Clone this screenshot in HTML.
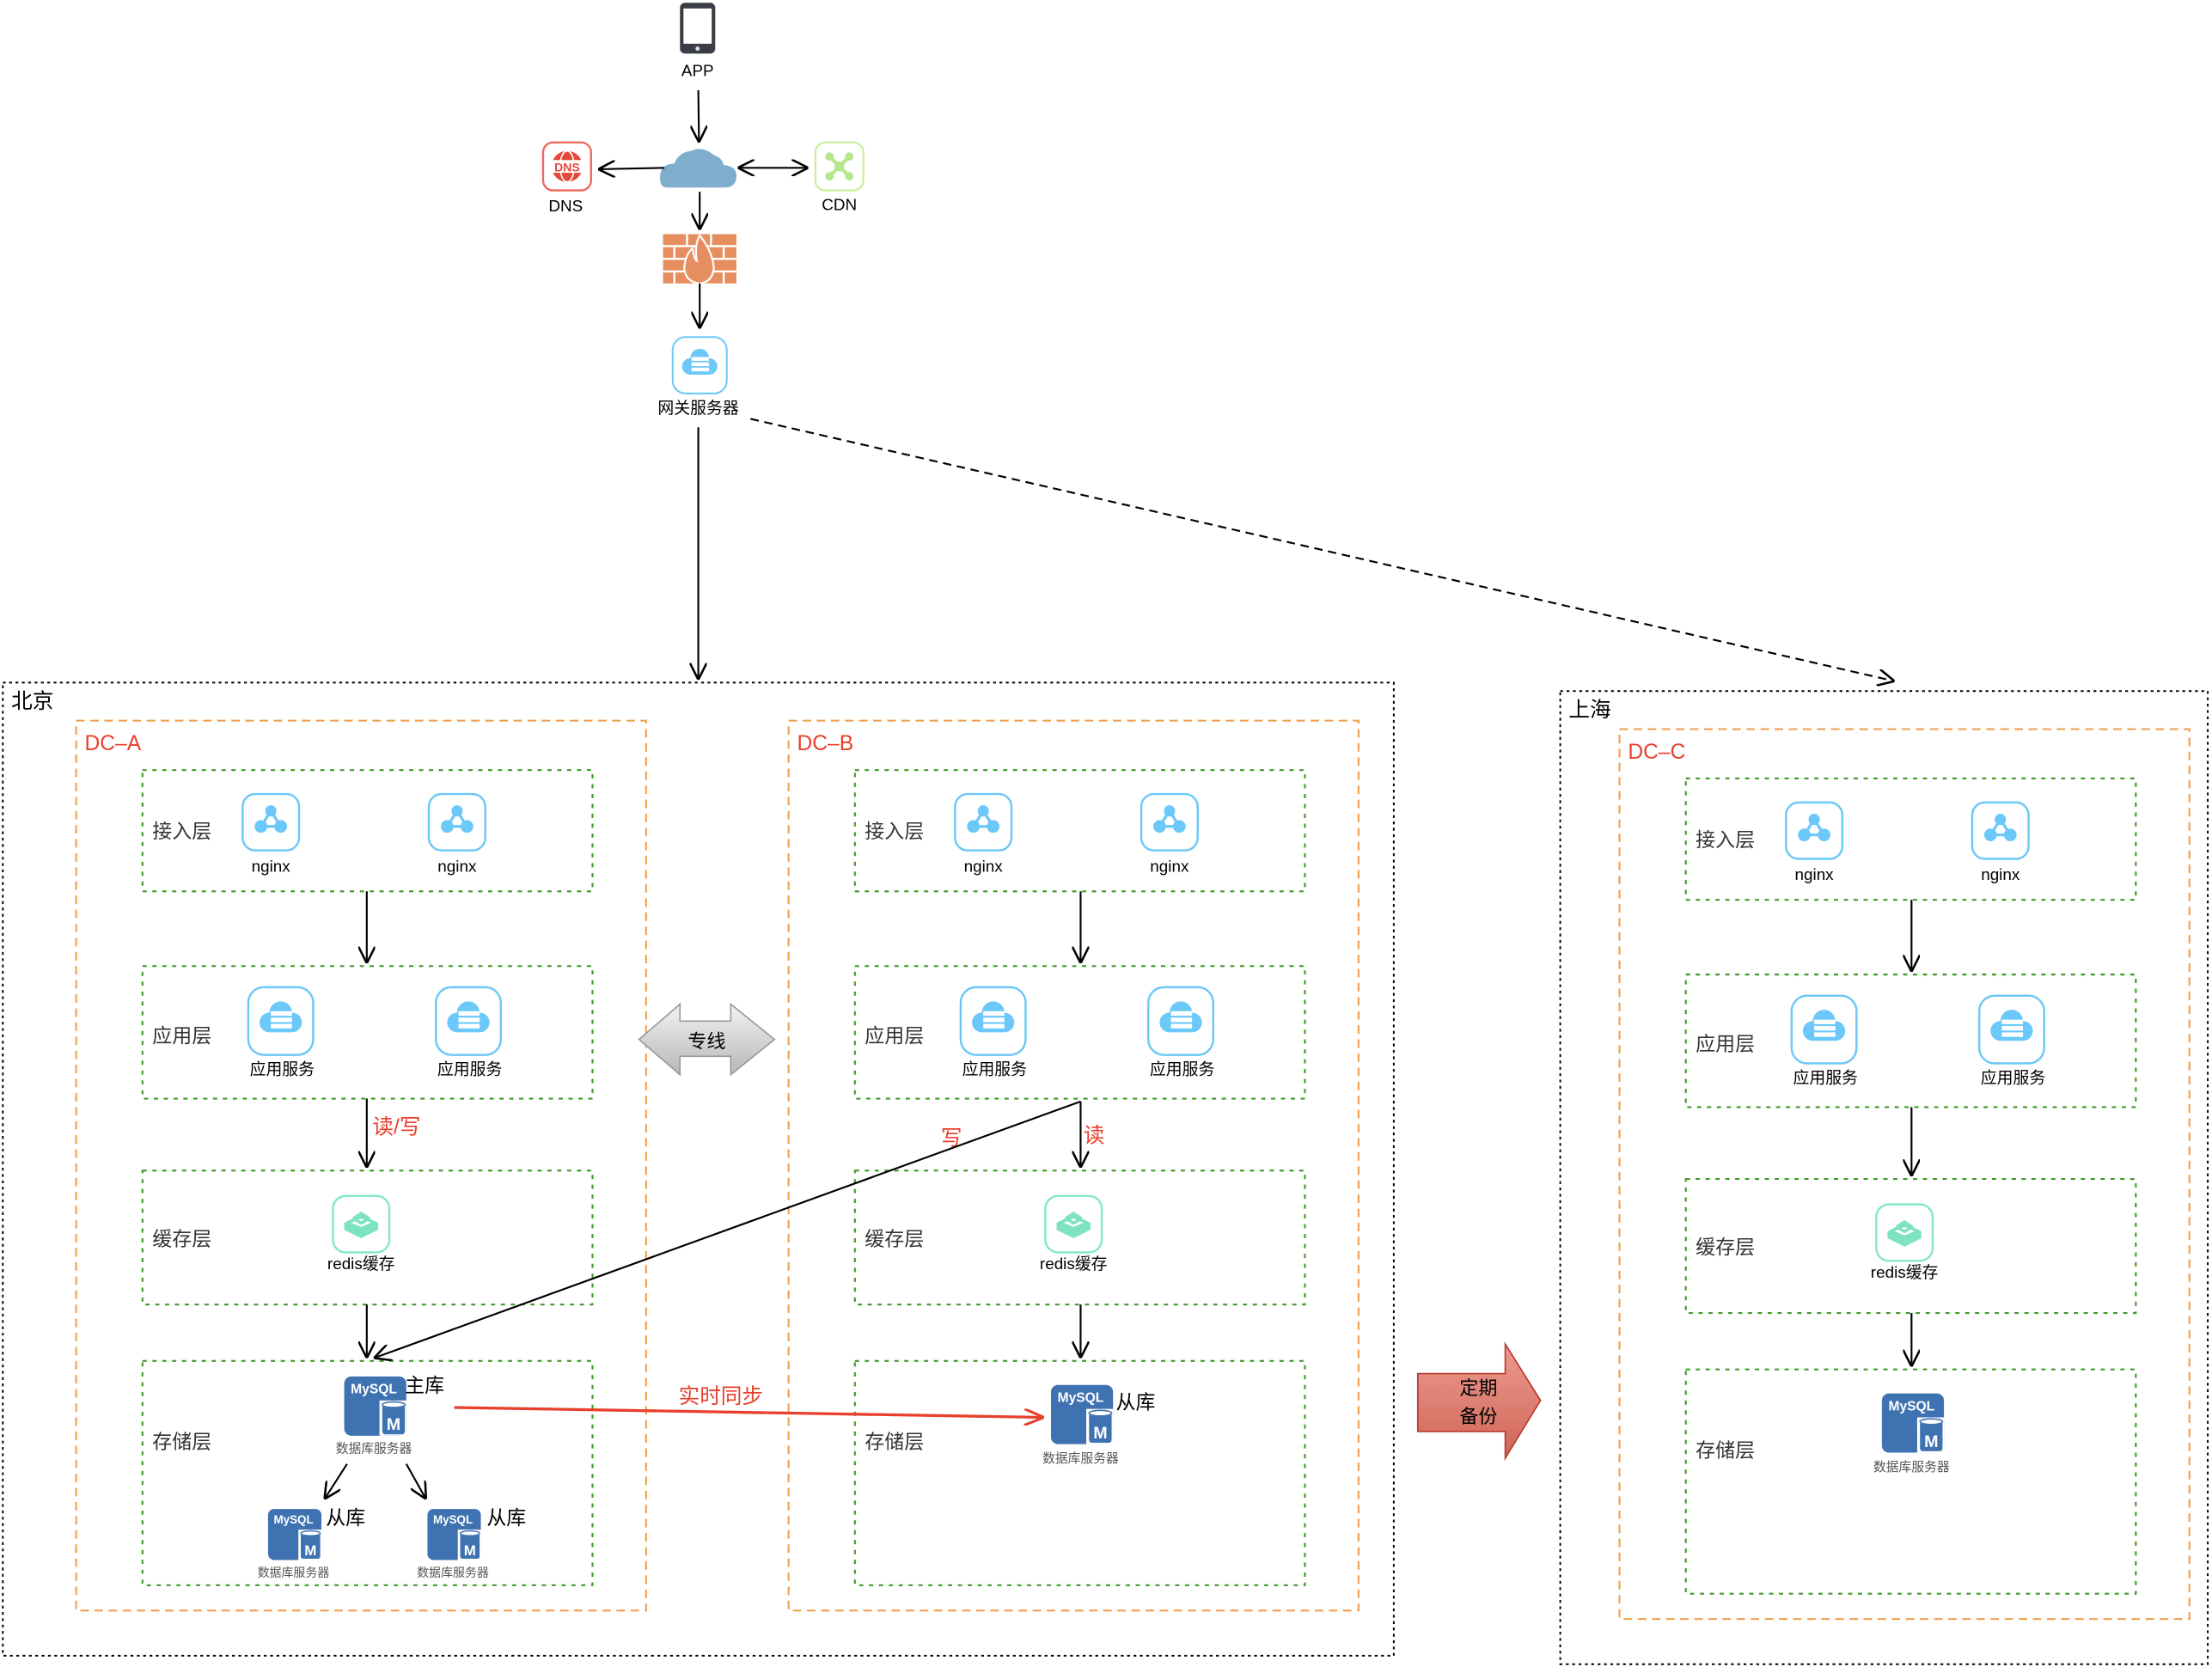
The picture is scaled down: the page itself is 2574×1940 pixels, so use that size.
<!DOCTYPE html>
<html><head><meta charset="utf-8"><style>
html,body{margin:0;padding:0;background:#fff;}
svg{display:block;}
text{font-family:"Liberation Sans","Noto Sans CJK SC",sans-serif;}
</style></head><body>
<svg width="2574" height="1940" viewBox="0 0 1568 1182" preserveAspectRatio="none" xmlns="http://www.w3.org/2000/svg">
<defs>
<marker id="ar" markerUnits="userSpaceOnUse" markerWidth="12" markerHeight="12" refX="10" refY="5" orient="auto" viewBox="0 0 10 10"><path d="M0,0 L10,5 L0,10" fill="none" stroke="#000" stroke-width="1.3"/></marker>
<marker id="ars" markerUnits="userSpaceOnUse" markerWidth="12" markerHeight="12" refX="0" refY="5" orient="auto" viewBox="0 0 10 10"><path d="M10,0 L0,5 L10,10" fill="none" stroke="#000" stroke-width="1.3"/></marker>
<marker id="arr" markerUnits="userSpaceOnUse" markerWidth="14" markerHeight="12" refX="12" refY="5" orient="auto" viewBox="0 0 12 10"><path d="M0,0 L12,5 L0,10" fill="none" stroke="#e8402c" stroke-width="1.6"/></marker>
<linearGradient id="gg" x1="0" y1="0" x2="0" y2="1"><stop offset="0" stop-color="#f2f2f2"/><stop offset="1" stop-color="#b8b8b8"/></linearGradient>
<linearGradient id="rg" x1="0" y1="0" x2="0" y2="1"><stop offset="0" stop-color="#ee9a90"/><stop offset="1" stop-color="#cf6658"/></linearGradient>
<symbol id="ngx" viewBox="0 0 42 42"><rect x="1" y="1" width="40" height="40" rx="9" fill="#fff" stroke="#6cc8f8" stroke-width="1.5"/><path d="M21,13 L14,24 L28,24 Z" fill="none" stroke="#6cc8f8" stroke-width="2"/><circle cx="21" cy="13" r="4" fill="#6cc8f8"/><circle cx="14" cy="24" r="4.5" fill="#6cc8f8"/><circle cx="28" cy="24" r="4.5" fill="#6cc8f8"/></symbol>
<symbol id="app" viewBox="0 0 48 50"><rect x="1" y="1" width="46" height="48" rx="11" fill="#fff" stroke="#6cc8f8" stroke-width="1.5"/><circle cx="24" cy="19" r="8" fill="#6cc8f8"/><rect x="9" y="19" width="30" height="14" rx="7" fill="#6cc8f8"/><rect x="17" y="18" width="15" height="3.2" fill="#fff"/><rect x="17" y="22.5" width="15" height="3.2" fill="#fff"/><rect x="17" y="27" width="15" height="3.2" fill="#fff"/></symbol>
<symbol id="rds" viewBox="0 0 42 42"><rect x="1" y="1" width="40" height="40" rx="9" fill="#fff" stroke="#86e8c4" stroke-width="1.5"/><path d="M9,20 L21,14 L33,20 L33,25 L21,31 L9,25 Z" fill="#7ee3c0"/><path d="M15,16 L21,12 L27,16 L21,19 Z" fill="#7ee3c0"/><path d="M14,20 L21,17 L28,20 L21,23 Z" fill="#fff"/><path d="M15,16 L21,19 L27,16 L27,18 L21,21.5 L15,18 Z" fill="#7ee3c0"/></symbol>
</defs>

<!-- top section -->
<rect x="482" y="2" width="25" height="36" rx="3.5" fill="#3a3d45"/><rect x="484.5" y="6" width="20" height="25" fill="#fff"/><circle cx="494.5" cy="34.5" r="1.5" fill="#ddd"/>
<text x="494.5" y="54" font-size="11.5" text-anchor="middle">APP</text>
<line x1="495" y1="64" x2="495.5" y2="101" stroke="#000" stroke-width="1.3" marker-end="url(#ar)"/>
<path d="M473,133 Q467,133 468,124 Q469,116 478,116 Q481,108 490,107 Q498,103 506,110 Q512,112 513,117 Q523,118 522,126 Q521,133 514,133 Z" fill="#7faecd"/>
<line x1="471" y1="119" x2="424" y2="120" stroke="#000" stroke-width="1.3" marker-end="url(#ar)"/>
<line x1="523" y1="119" x2="573" y2="119" stroke="#000" stroke-width="1.3" marker-start="url(#ars)" marker-end="url(#ar)"/>
<rect x="385" y="101" width="34" height="34" rx="7" fill="#fff" stroke="#f0645a" stroke-width="1.4"/>
<circle cx="402" cy="118" r="11" fill="#e5483c"/><ellipse cx="402" cy="118" rx="5" ry="11" fill="none" stroke="#fff" stroke-width="1"/>
<rect x="390" y="113.5" width="24" height="9" fill="#fff"/><text x="402" y="121.5" font-size="8.5" font-weight="bold" fill="#e5483c" text-anchor="middle">DNS</text>
<text x="401" y="150" font-size="11.5" text-anchor="middle">DNS</text>
<rect x="578" y="101" width="34" height="34" rx="7" fill="#fff" stroke="#c8f0a0" stroke-width="1.4"/>
<g stroke="#b5e88a" stroke-width="2.5"><line x1="588" y1="111" x2="602" y2="125"/><line x1="602" y1="111" x2="588" y2="125"/></g>
<g fill="#b5e88a"><circle cx="588" cy="111" r="3"/><circle cx="602" cy="111" r="3"/><circle cx="588" cy="125" r="3"/><circle cx="602" cy="125" r="3"/><circle cx="595" cy="118" r="3.5"/></g>
<text x="595" y="149" font-size="11.5" text-anchor="middle">CDN</text>
<line x1="496" y1="136" x2="496" y2="163" stroke="#000" stroke-width="1.3" marker-end="url(#ar)"/>
<g fill="#e68e5f"><rect x="470" y="166" width="52" height="35"/></g>
<g stroke="#fff" stroke-width="1.5"><line x1="470" y1="174.5" x2="522" y2="174.5"/><line x1="470" y1="183.5" x2="522" y2="183.5"/><line x1="470" y1="192.5" x2="522" y2="192.5"/>
<line x1="487" y1="166" x2="487" y2="174"/><line x1="504" y1="166" x2="504" y2="174"/><line x1="478" y1="175" x2="478" y2="183"/><line x1="513" y1="175" x2="513" y2="183"/><line x1="487" y1="184" x2="487" y2="192"/><line x1="504" y1="184" x2="504" y2="192"/><line x1="478" y1="193" x2="478" y2="201"/><line x1="513" y1="193" x2="513" y2="201"/></g>
<path d="M496,167 Q505,178 506,190 Q505,200 496,201 Q486,200 485,190 Q486,180 491,176 Q492,184 494,185 Q492,174 496,167Z" fill="#e68e5f" stroke="#fff" stroke-width="1.3"/>
<line x1="496" y1="201" x2="496" y2="233" stroke="#000" stroke-width="1.3" marker-end="url(#ar)"/>
<use href="#app" x="476" y="238" width="40" height="42"/>
<text x="495" y="293" font-size="11.5" text-anchor="middle">网关服务器</text>
<line x1="495" y1="303" x2="495" y2="482" stroke="#000" stroke-width="1.3" marker-end="url(#ar)"/>
<line x1="532" y1="297" x2="1343" y2="483" stroke="#000" stroke-width="1.3" stroke-dasharray="6,4" marker-end="url(#ar)"/>

<!-- region boxes -->
<rect x="2" y="484" width="986" height="690" fill="none" stroke="#000" stroke-width="1.2" stroke-dasharray="2,2.5"/>
<text x="8" y="502" font-size="15">北京</text>
<rect x="1106" y="490" width="459" height="690" fill="none" stroke="#000" stroke-width="1.2" stroke-dasharray="2,2.5"/>
<text x="1112" y="508" font-size="15">上海</text>

<!-- DC-A -->
<g transform="translate(54,511)">
<rect x="0" y="0" width="404" height="631" fill="none" stroke="#f0a050" stroke-width="1.3" stroke-dasharray="6,4"/>
<text x="6" y="21" font-size="15" fill="#e8402c">DC–A</text>
<g fill="none" stroke="#3f9a2a" stroke-width="1.3" stroke-dasharray="3,4">
<rect x="47" y="35" width="319" height="86"/><rect x="47" y="174" width="319" height="94"/><rect x="47" y="319" width="319" height="95"/><rect x="47" y="454" width="319" height="159"/></g>
<g font-size="14" fill="#333"><text x="54" y="83">接入层</text><text x="54" y="228">应用层</text><text x="54" y="372">缓存层</text><text x="54" y="516">存储层</text></g>
<use href="#ngx" x="117" y="51" width="42" height="42"/><use href="#ngx" x="249" y="51" width="42" height="42"/>
<g font-size="11.5" text-anchor="middle"><text x="138" y="107">nginx</text><text x="270" y="107">nginx</text>
<text x="146" y="251">应用服务</text><text x="279" y="251">应用服务</text><text x="202" y="389">redis缓存</text></g>
<use href="#app" x="121" y="188" width="48" height="50"/><use href="#app" x="254" y="188" width="48" height="50"/>
<use href="#rds" x="181" y="336" width="42" height="42"/>
<g stroke="#000" stroke-width="1.3" marker-end="url(#ar)"><line x1="206" y1="121" x2="206" y2="172"/><line x1="206" y1="268" x2="206" y2="317"/><line x1="206" y1="414" x2="206" y2="452"/>
<line x1="192" y1="527" x2="176" y2="552"/><line x1="234" y1="527" x2="248" y2="552"/></g>
<text x="210" y="293" font-size="15" fill="#e8402c">读/写</text>
</g>

<!-- DC-B -->
<g transform="translate(559,511)">
<rect x="0" y="0" width="404" height="631" fill="none" stroke="#f0a050" stroke-width="1.3" stroke-dasharray="6,4"/>
<text x="6" y="21" font-size="15" fill="#e8402c">DC–B</text>
<g fill="none" stroke="#3f9a2a" stroke-width="1.3" stroke-dasharray="3,4">
<rect x="47" y="35" width="319" height="86"/><rect x="47" y="174" width="319" height="94"/><rect x="47" y="319" width="319" height="95"/><rect x="47" y="454" width="319" height="159"/></g>
<g font-size="14" fill="#333"><text x="54" y="83">接入层</text><text x="54" y="228">应用层</text><text x="54" y="372">缓存层</text><text x="54" y="516">存储层</text></g>
<use href="#ngx" x="117" y="51" width="42" height="42"/><use href="#ngx" x="249" y="51" width="42" height="42"/>
<g font-size="11.5" text-anchor="middle"><text x="138" y="107">nginx</text><text x="270" y="107">nginx</text>
<text x="146" y="251">应用服务</text><text x="279" y="251">应用服务</text><text x="202" y="389">redis缓存</text></g>
<use href="#app" x="121" y="188" width="48" height="50"/><use href="#app" x="254" y="188" width="48" height="50"/>
<use href="#rds" x="181" y="336" width="42" height="42"/>
<g stroke="#000" stroke-width="1.3" marker-end="url(#ar)"><line x1="207" y1="121" x2="207" y2="172"/><line x1="207" y1="270" x2="207" y2="317"/><line x1="207" y1="414" x2="207" y2="452"/></g>
<text x="209" y="299" font-size="15" fill="#e8402c">读</text>
<text x="108" y="301" font-size="15" fill="#e8402c">写</text>
</g>

<!-- DC-C -->
<g transform="translate(1148,517)">
<rect x="0" y="0" width="404" height="631" fill="none" stroke="#f0a050" stroke-width="1.3" stroke-dasharray="6,4"/>
<text x="6" y="21" font-size="15" fill="#e8402c">DC–C</text>
<g fill="none" stroke="#3f9a2a" stroke-width="1.3" stroke-dasharray="3,4">
<rect x="47" y="35" width="319" height="86"/><rect x="47" y="174" width="319" height="94"/><rect x="47" y="319" width="319" height="95"/><rect x="47" y="454" width="319" height="159"/></g>
<g font-size="14" fill="#333"><text x="54" y="83">接入层</text><text x="54" y="228">应用层</text><text x="54" y="372">缓存层</text><text x="54" y="516">存储层</text></g>
<use href="#ngx" x="117" y="51" width="42" height="42"/><use href="#ngx" x="249" y="51" width="42" height="42"/>
<g font-size="11.5" text-anchor="middle"><text x="138" y="107">nginx</text><text x="270" y="107">nginx</text>
<text x="146" y="251">应用服务</text><text x="279" y="251">应用服务</text><text x="202" y="389">redis缓存</text></g>
<use href="#app" x="121" y="188" width="48" height="50"/><use href="#app" x="254" y="188" width="48" height="50"/>
<use href="#rds" x="181" y="336" width="42" height="42"/>
<g stroke="#000" stroke-width="1.3" marker-end="url(#ar)"><line x1="207" y1="121" x2="207" y2="172"/><line x1="207" y1="268" x2="207" y2="317"/><line x1="207" y1="414" x2="207" y2="452"/></g>
</g>

<!-- MySQL icons -->
<g id="m1" transform="translate(244,976)">
<rect x="0" y="0" width="44" height="42" rx="5" fill="#3f72b0"/><text x="21" y="12" font-size="9.5" font-weight="bold" fill="#fff" text-anchor="middle">MySQL</text>
<rect x="25" y="17" width="19" height="25" fill="#fff"/><rect x="27" y="20" width="16" height="21" rx="2" fill="#3f72b0"/><ellipse cx="35" cy="20" rx="8" ry="2" fill="#fff" stroke="#3f72b0"/><text x="35" y="38" font-size="12" font-weight="bold" fill="#fff" text-anchor="middle">M</text></g>
<text x="287" y="987" font-size="14">主库</text>
<text x="265" y="1030" font-size="9" fill="#555" text-anchor="middle">数据库服务器</text>

<g transform="translate(190,1070) scale(0.86)">
<rect x="0" y="0" width="44" height="42" rx="5" fill="#3f72b0"/><text x="21" y="12" font-size="9.5" font-weight="bold" fill="#fff" text-anchor="middle">MySQL</text>
<rect x="25" y="17" width="19" height="25" fill="#fff"/><rect x="27" y="20" width="16" height="21" rx="2" fill="#3f72b0"/><ellipse cx="35" cy="20" rx="8" ry="2" fill="#fff" stroke="#3f72b0"/><text x="35" y="38" font-size="12" font-weight="bold" fill="#fff" text-anchor="middle">M</text></g>
<text x="231" y="1081" font-size="14">从库</text>
<text x="208" y="1118" font-size="8.5" fill="#555" text-anchor="middle">数据库服务器</text>

<g transform="translate(303,1070) scale(0.86)">
<rect x="0" y="0" width="44" height="42" rx="5" fill="#3f72b0"/><text x="21" y="12" font-size="9.5" font-weight="bold" fill="#fff" text-anchor="middle">MySQL</text>
<rect x="25" y="17" width="19" height="25" fill="#fff"/><rect x="27" y="20" width="16" height="21" rx="2" fill="#3f72b0"/><ellipse cx="35" cy="20" rx="8" ry="2" fill="#fff" stroke="#3f72b0"/><text x="35" y="38" font-size="12" font-weight="bold" fill="#fff" text-anchor="middle">M</text></g>
<text x="345" y="1081" font-size="14">从库</text>
<text x="321" y="1118" font-size="8.5" fill="#555" text-anchor="middle">数据库服务器</text>

<g transform="translate(745,982)">
<rect x="0" y="0" width="44" height="42" rx="5" fill="#3f72b0"/><text x="21" y="12" font-size="9.5" font-weight="bold" fill="#fff" text-anchor="middle">MySQL</text>
<rect x="25" y="17" width="19" height="25" fill="#fff"/><rect x="27" y="20" width="16" height="21" rx="2" fill="#3f72b0"/><ellipse cx="35" cy="20" rx="8" ry="2" fill="#fff" stroke="#3f72b0"/><text x="35" y="38" font-size="12" font-weight="bold" fill="#fff" text-anchor="middle">M</text></g>
<text x="791" y="999" font-size="14">从库</text>
<text x="766" y="1037" font-size="9" fill="#555" text-anchor="middle">数据库服务器</text>

<g transform="translate(1334,988)">
<rect x="0" y="0" width="44" height="42" rx="5" fill="#3f72b0"/><text x="21" y="12" font-size="9.5" font-weight="bold" fill="#fff" text-anchor="middle">MySQL</text>
<rect x="25" y="17" width="19" height="25" fill="#fff"/><rect x="27" y="20" width="16" height="21" rx="2" fill="#3f72b0"/><ellipse cx="35" cy="20" rx="8" ry="2" fill="#fff" stroke="#3f72b0"/><text x="35" y="38" font-size="12" font-weight="bold" fill="#fff" text-anchor="middle">M</text></g>
<text x="1355" y="1043" font-size="9" fill="#555" text-anchor="middle">数据库服务器</text>

<!-- cross connectors -->
<line x1="766" y1="781" x2="265" y2="963" stroke="#000" stroke-width="1.3" marker-end="url(#ar)"/>
<line x1="322" y1="998" x2="740" y2="1005" stroke="#e8402c" stroke-width="2" marker-end="url(#arr)"/>
<text x="481" y="995" font-size="15" fill="#e8402c">实时同步</text>

<!-- 专线 -->
<path d="M453,737 L482,712 L482,724 L518,724 L518,712 L549,737 L518,762 L518,749 L482,749 L482,762 Z" fill="url(#gg)" stroke="#999" stroke-width="1"/>
<text x="501" y="743" font-size="13.5" text-anchor="middle">专线</text>

<!-- 定期备份 -->
<path d="M1005,974 L1067,974 L1067,953 L1092,993 L1067,1034 L1067,1015 L1005,1015 Z" fill="url(#rg)" stroke="#b8382a" stroke-width="1"/>
<text x="1048" y="989" font-size="13.5" text-anchor="middle">定期</text>
<text x="1048" y="1009" font-size="13.5" text-anchor="middle">备份</text>
</svg>
</body></html>
